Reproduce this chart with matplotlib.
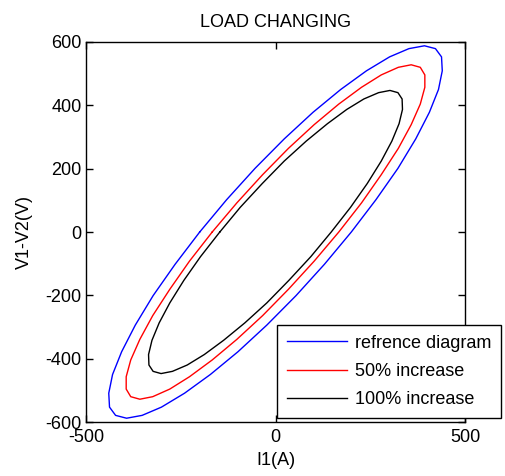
import matplotlib
matplotlib.use('Agg')
import matplotlib.pyplot as plt

plt.rcParams['font.family'] = ['Liberation Sans', 'DejaVu Sans']
plt.rcParams['font.size'] = 13
plt.rcParams['axes.unicode_minus'] = False

# loop points (I1 in A, V1-V2 in V)
ref_i = [-200, -129, -54, 23, 99, 172, 240, 301, 352, 393, 422, 438,
         440, 430, 406, 370, 323, 265, 200, 129, 54, -23, -99, -172,
         -240, -301, -352, -393, -422, -438, -440, -430, -406, -370, -323, -265, -200]
ref_v = [0, 102, 201, 294, 378, 450, 509, 553, 579, 588, 579, 553,
         509, 450, 378, 294, 201, 102, 0, -102, -201, -294, -378, -450,
         -509, -553, -579, -588, -579, -553, -509, -450, -378, -294, -201, -102, 0]

inc50_i = [-167, -102, -34, 34, 102, 167, 227, 279, 324, 358, 382, 394,
           394, 382, 358, 324, 279, 227, 167, 102, 34, -34, -102, -167,
           -227, -279, -324, -358, -382, -394, -394, -382, -358, -324, -279, -227, -167]
inc50_v = [0, 92, 181, 264, 339, 404, 457, 496, 520, 528, 520, 496,
           457, 404, 339, 264, 181, 92, 0, -92, -181, -264, -339, -404,
           -457, -496, -520, -528, -520, -496, -457, -404, -339, -264, -181, -92, 0]

inc100_i = [-147, -93, -35, 23, 81, 137, 188, 233, 272, 302, 323, 334,
            335, 326, 307, 279, 242, 198, 147, 93, 35, -23, -81, -137,
            -188, -233, -272, -302, -323, -334, -335, -326, -307, -279, -242, -198, -147]
inc100_v = [0, 78, 153, 224, 287, 342, 387, 420, 440, 447, 440, 420,
            387, 342, 287, 224, 153, 78, 0, -78, -153, -224, -287, -342,
            -387, -420, -440, -447, -440, -420, -387, -342, -287, -224, -153, -78, 0]

labels = ['refrence diagram', '50% increase', '100% increase']
xticks = [-500, 0, 500]
yticks = [-600, -400, -200, 0, 200, 400, 600]

fig = plt.figure(figsize=(5.06, 4.76), dpi=100)
ax = fig.add_axes([0.170, 0.1134, 0.749, 0.7984])

ax.plot(ref_i, ref_v, color='#0000ff', lw=1.0, label=labels[0])
ax.plot(inc50_i, inc50_v, color='#ff0000', lw=1.0, label=labels[1])
ax.plot(inc100_i, inc100_v, color='black', lw=1.0, label=labels[2])

ax.set_xlim(-500, 500)
ax.set_ylim(-600, 600)
ax.set_xticks(xticks)
ax.set_yticks(yticks)
ax.tick_params(direction='in', length=5, top=True, right=True, width=1)
ax.tick_params(axis='x', pad=5)
ax.tick_params(axis='y', pad=3)
for s in ax.spines.values():
    s.set_linewidth(1.0)

ax.set_title('LOAD CHANGING', fontsize=13, pad=11)
ax.set_xlabel('I1(A)', labelpad=4)
ax.set_ylabel('V1-V2(V)', labelpad=9)

leg = ax.legend(loc='lower left', bbox_to_anchor=(277 / 506, 1 - 418 / 476),
                bbox_transform=fig.transFigure, fancybox=False, framealpha=1,
                edgecolor='black', handlelength=3.3, labelspacing=0.62,
                borderaxespad=0, handletextpad=0.45, borderpad=0.55)
leg.get_frame().set_linewidth(1.0)

fig.savefig('out.png', dpi=100)
